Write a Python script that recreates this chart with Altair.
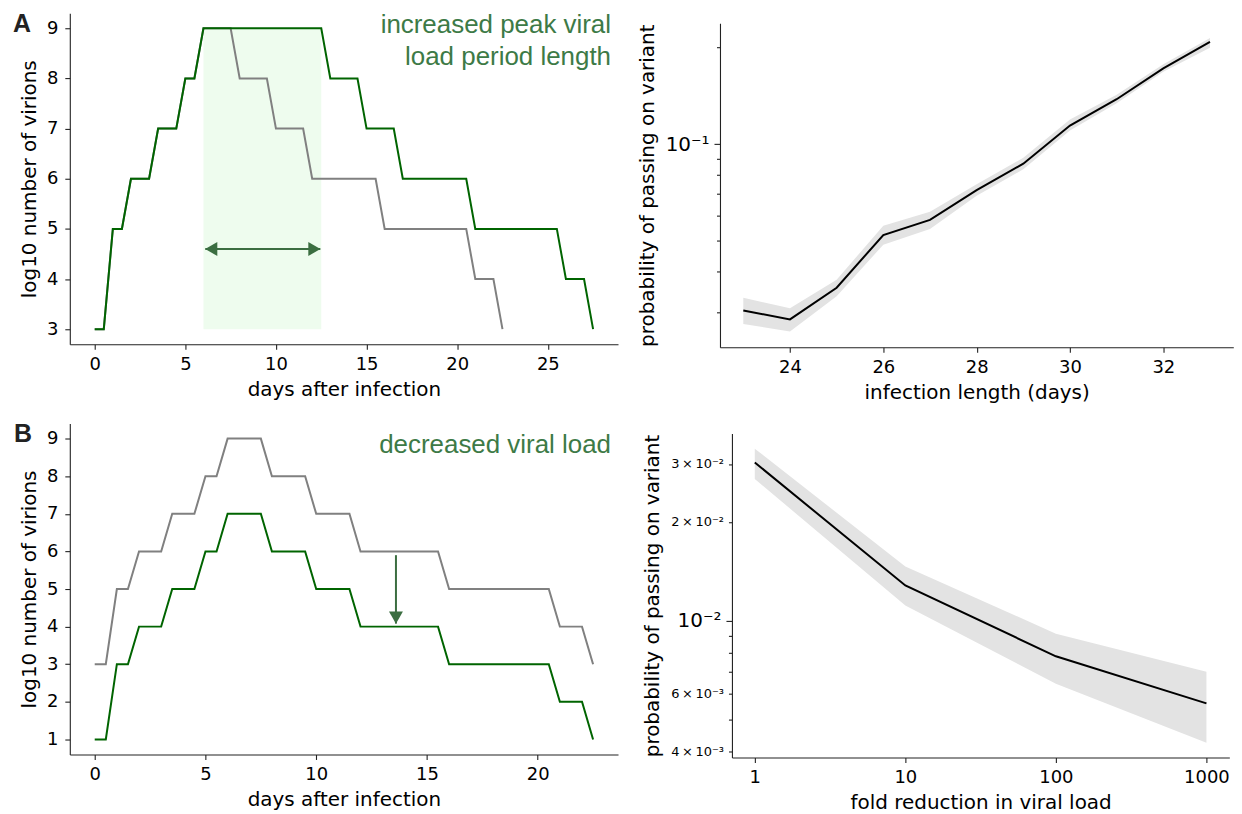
import altair as alt
import pandas as pd

# ---------------- data ----------------
# Panel A/B: step-like viral load time courses (log10 number of virions)
days_base = [0, 0.5, 1, 1.5, 2, 3, 3.5, 4.5, 5, 5.5, 6, 7.5, 8, 9.5, 10, 11.5, 12, 15.5, 16, 20.5, 21, 22, 22.5]
load_base = [3, 3, 5, 5, 6, 6, 7, 7, 8, 8, 9, 9, 8, 8, 7, 7, 6, 6, 5, 5, 4, 4, 3]
days_long_peak = [0, 0.5, 1, 1.5, 2, 3, 3.5, 4.5, 5, 5.5, 6, 12.5, 13, 14.5, 15, 16.5, 17, 20.5, 21, 25.5, 26, 27, 27.5]
load_long_peak = [3, 3, 5, 5, 6, 6, 7, 7, 8, 8, 9, 9, 8, 8, 7, 7, 6, 6, 5, 5, 4, 4, 3]
days_reduced = [0, 0.5, 1, 1.5, 2, 3, 3.5, 4.5, 5, 5.5, 6, 7.5, 8, 9.5, 10, 11.5, 12, 15.5, 16, 20.5, 21, 22, 22.5]
load_reduced = [1, 1, 3, 3, 4, 4, 5, 5, 6, 6, 7, 7, 6, 6, 5, 5, 4, 4, 3, 3, 2, 2, 1]

# Panel A right: probability vs infection length
infection_length = [23, 24, 25, 26, 27, 28, 29, 30, 31, 32, 33]
p_len_mean = [0.0303, 0.02845, 0.0357, 0.0521, 0.0581, 0.0719, 0.0869, 0.1143, 0.138, 0.1723, 0.2084]
p_len_low = [0.0275, 0.0261, 0.0336, 0.0486, 0.0544, 0.0690, 0.0835, 0.1102, 0.134, 0.168, 0.1996]
p_len_high = [0.0332, 0.0308, 0.0378, 0.0557, 0.0616, 0.0750, 0.0907, 0.1193, 0.1425, 0.1774, 0.2143]

# Panel B right: probability vs fold reduction
fold_reduction = [1, 10, 100, 1000]
p_fold_mean = [0.0303, 0.0128, 0.00779, 0.0056]
p_fold_low = [0.0270, 0.01113, 0.00643, 0.00425]
p_fold_high = [0.0334, 0.01462, 0.00913, 0.00699]

# annotations (data coordinates)
peak_start, peak_end = 6, 12.5
peak_low, peak_high = 3, 9
arrow_a_y = 4.6
arrow_a_x = [6.1, 12.45]
arrow_b_x = 13.6
arrow_b_y = [5.9, 4.08]

# ---------------- styles ----------------
GREEN = "#006400"
GREY = "#808080"
ANNOT = "#3d7a46"
ARROW = "#3b6e41"
SHADE = "#eefcee"
BAND = "#e3e3e3"
AXFONT = "DejaVu Sans"
TXTFONT = "Liberation Sans"

one = pd.DataFrame({"k": [0]})


def lin_axis(values, title, tsize=5, lpad=6, tpad=6):
    return alt.Axis(values=values, title=title, format="d", tickSize=tsize,
                    labelPadding=lpad, titlePadding=tpad)


# ---------------- panel A left ----------------
xA = alt.Scale(domain=[-1.375, 28.875], nice=False, zero=False)
yA = alt.Scale(domain=[2.7, 9.3], nice=False, zero=False)
axA_x = lin_axis([0, 5, 10, 15, 20, 25], "days after infection")
axA_y = lin_axis([3, 4, 5, 6, 7, 8, 9], "log10 number of virions", lpad=7, tpad=7)


def XA(f):
    return alt.X(f, scale=xA, axis=axA_x)


def YA(f):
    return alt.Y(f, scale=yA, axis=axA_y)


shade = alt.Chart(pd.DataFrame({"d": [peak_start], "d2": [peak_end], "v": [peak_low], "v2": [peak_high]})).mark_rect(
    color=SHADE).encode(x=XA("d:Q"), x2="d2:Q", y=YA("v:Q"), y2="v2:Q")
lineA_base = alt.Chart(pd.DataFrame({"d": days_base, "v": load_base, "i": list(range(len(days_base)))})).mark_line(
    color=GREY, strokeWidth=2).encode(x=XA("d:Q"), y=YA("v:Q"), order="i:Q")
lineA_long = alt.Chart(pd.DataFrame({"d": days_long_peak, "v": load_long_peak, "i": list(range(len(days_long_peak)))})).mark_line(
    color=GREEN, strokeWidth=2).encode(x=XA("d:Q"), y=YA("v:Q"), order="i:Q")
arrA = alt.Chart(pd.DataFrame({"d": [arrow_a_x[0]], "d2": [arrow_a_x[1]], "v": [arrow_a_y]})).mark_rule(
    color=ARROW, strokeWidth=2).encode(x=XA("d:Q"), x2="d2:Q", y=YA("v:Q"))
headA_l = alt.Chart(pd.DataFrame({"d": [arrow_a_x[0]], "v": [arrow_a_y]})).mark_point(
    shape="triangle-left", filled=True, size=196, color=ARROW, opacity=1, xOffset=6).encode(x=XA("d:Q"), y=YA("v:Q"))
headA_r = alt.Chart(pd.DataFrame({"d": [arrow_a_x[1]], "v": [arrow_a_y]})).mark_point(
    shape="triangle-right", filled=True, size=196, color=ARROW, opacity=1, xOffset=-6).encode(x=XA("d:Q"), y=YA("v:Q"))
txtA = alt.Chart(one).mark_text(align="right", baseline="alphabetic", font=TXTFONT, fontSize=26, color=ANNOT,
                                lineHeight=31.5).encode(
    x=alt.value(543), y=alt.value(20), text=alt.value(["increased peak viral", "load period length"]))
letA = alt.Chart(one).mark_text(align="left", baseline="top", font=TXTFONT, fontSize=25, fontWeight="bold",
                                color="#222222").encode(x=alt.value(-57), y=alt.value(-1), text=alt.value("A"))

panelA = alt.layer(shade, lineA_base, lineA_long, arrA, headA_l, headA_r, txtA, letA).properties(width=550, height=332)

# ---------------- panel B left ----------------
xB = alt.Scale(domain=[-1.125, 23.625], nice=False, zero=False)
yB = alt.Scale(domain=[0.6, 9.4], nice=False, zero=False)
axB_x = lin_axis([0, 5, 10, 15, 20], "days after infection")
axB_y = lin_axis([1, 2, 3, 4, 5, 6, 7, 8, 9], "log10 number of virions", lpad=7, tpad=7)


def XB(f):
    return alt.X(f, scale=xB, axis=axB_x)


def YB(f):
    return alt.Y(f, scale=yB, axis=axB_y)


lineB_base = alt.Chart(pd.DataFrame({"d": days_base, "v": load_base, "i": list(range(len(days_base)))})).mark_line(
    color=GREY, strokeWidth=2).encode(x=XB("d:Q"), y=YB("v:Q"), order="i:Q")
lineB_red = alt.Chart(pd.DataFrame({"d": days_reduced, "v": load_reduced, "i": list(range(len(days_reduced)))})).mark_line(
    color=GREEN, strokeWidth=2).encode(x=XB("d:Q"), y=YB("v:Q"), order="i:Q")
arrB = alt.Chart(pd.DataFrame({"d": [arrow_b_x], "v": [arrow_b_y[0]], "v2": [arrow_b_y[1]]})).mark_rule(
    color=ARROW, strokeWidth=2).encode(x=XB("d:Q"), y=YB("v:Q"), y2="v2:Q")
headB = alt.Chart(pd.DataFrame({"d": [arrow_b_x], "v": [arrow_b_y[1]]})).mark_point(
    shape="triangle-down", filled=True, size=196, color=ARROW, opacity=1, yOffset=-6).encode(x=XB("d:Q"), y=YB("v:Q"))
txtB = alt.Chart(one).mark_text(align="right", baseline="alphabetic", font=TXTFONT, fontSize=26, color=ANNOT).encode(
    x=alt.value(543), y=alt.value(30), text=alt.value("decreased viral load"))
letB = alt.Chart(one).mark_text(align="left", baseline="top", font=TXTFONT, fontSize=25, fontWeight="bold",
                                color="#222222").encode(x=alt.value(-56), y=alt.value(-2), text=alt.value("B"))

panelB = alt.layer(lineB_base, lineB_red, arrB, headB, txtB, letB).properties(width=550, height=332)

# ---------------- panel A right ----------------
xR = alt.Scale(domain=[22.5, 33.5], nice=False, zero=False)
yR = alt.Scale(type="log", domain=[0.0233, 0.238], range=[335, 10], nice=False)
axR_x = lin_axis([24, 26, 28, 30, 32], "infection length (days)")
axR_y = alt.Axis(values=[0.03, 0.04, 0.05, 0.06, 0.07, 0.08, 0.09, 0.1, 0.2],
                 title="probability of passing on variant",
                 labelExpr="datum.value == 0.1 ? '10\u207b\u00b9' : ''",
                 labelFontSize=20,
                 tickSize={"condition": {"test": "datum.value == 0.1", "value": 6}, "value": 3.5},
                 labelPadding=5, titlePadding=8)
dfR = pd.DataFrame({"L": infection_length, "m": p_len_mean, "lo": p_len_low, "hi": p_len_high})
bandR = alt.Chart(dfR).mark_area(color=BAND, opacity=1).encode(
    x=alt.X("L:Q", scale=xR, axis=axR_x), y=alt.Y("lo:Q", scale=yR, axis=axR_y), y2="hi:Q")
lineR = alt.Chart(dfR).mark_line(color="black", strokeWidth=2).encode(
    x=alt.X("L:Q", scale=xR, axis=axR_x), y=alt.Y("m:Q", scale=yR, axis=axR_y))
panelR = alt.layer(bandR, lineR).properties(width=515, height=335)

# ---------------- panel B right ----------------
xF = alt.Scale(type="log", domain=[0.705, 1419], range=[12, 511], nice=False)
yF = alt.Scale(type="log", domain=[0.003833, 0.03713], range=[335, 10], nice=False)
axF_x = alt.Axis(values=[1, 10, 100, 1000], title="fold reduction in viral load", format="d", tickSize=5,
                 labelPadding=6, titlePadding=6)
lab_expr = ("datum.value == 0.01 ? '10\u207b\u00b2' : "
            "datum.value == 0.02 ? '2\u2009\u00d7\u200910\u207b\u00b2' : "
            "datum.value == 0.03 ? '3\u2009\u00d7\u200910\u207b\u00b2' : "
            "datum.value == 0.004 ? '4\u2009\u00d7\u200910\u207b\u00b3' : "
            "datum.value == 0.006 ? '6\u2009\u00d7\u200910\u207b\u00b3' : ''")
axF_y = alt.Axis(values=[0.004, 0.005, 0.006, 0.007, 0.008, 0.009, 0.01, 0.02, 0.03],
                 title="probability of passing on variant", labelExpr=lab_expr,
                 labelFontSize={"condition": {"test": "datum.value == 0.01", "value": 20}, "value": 13},
                 tickSize={"condition": {"test": "datum.value == 0.01", "value": 6}, "value": 3.5},
                 labelPadding=5, titlePadding=8, offset=-12)
dfF = pd.DataFrame({"f": fold_reduction, "m": p_fold_mean, "lo": p_fold_low, "hi": p_fold_high})
bandF = alt.Chart(dfF).mark_area(color=BAND, opacity=1).encode(
    x=alt.X("f:Q", scale=xF, axis=axF_x), y=alt.Y("lo:Q", scale=yF, axis=axF_y), y2="hi:Q")
lineF = alt.Chart(dfF).mark_line(color="black", strokeWidth=2).encode(
    x=alt.X("f:Q", scale=xF, axis=axF_x), y=alt.Y("m:Q", scale=yF, axis=axF_y))
panelF = alt.layer(bandF, lineF).properties(width=515, height=335)

# ---------------- assemble ----------------
chart = alt.concat(panelA, panelR, panelB, panelF, columns=2, bounds="flush",
                   spacing={"row": 76.6, "column": 102.3}).properties(
    padding={"left": 5, "top": 3, "right": 0, "bottom": 0},
    background="white",
).configure_view(strokeWidth=0).configure_axis(
    grid=False, domainColor="#222222", tickColor="#222222", domainWidth=1.1, tickWidth=1.1,
    labelColor="#000000", titleColor="#000000", labelFont=AXFONT, titleFont=AXFONT,
    titleFontWeight="normal", labelFontSize=18, titleFontSize=20, labelFlush=False, labelOverlap=False,
)

chart.save("out.html", embed_options={"renderer": "svg", "actions": False})
